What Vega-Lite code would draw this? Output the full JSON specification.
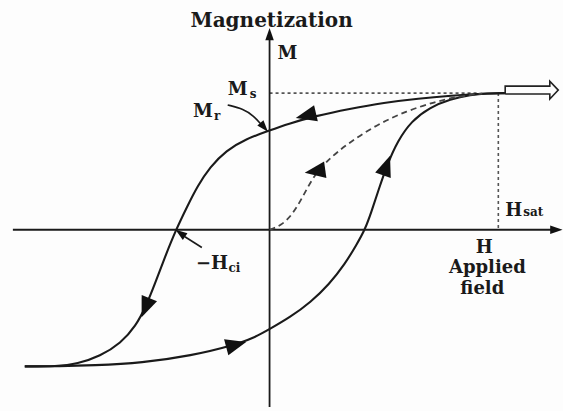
{
  "$schema": "https://vega.github.io/schema/vega-lite/v6.json",
  "width": 563,
  "height": 411,
  "autosize": {"type": "fit", "contains": "padding"},
  "padding": 0,
  "background": "#fdfdfd",
  "config": {"view": {"stroke": null}},
  "datasets": {
    "paths": [
      {"s": "haxis", "i": 0, "H": -1.122, "M": 0},
      {"s": "haxis", "i": 1, "H": 1.235, "M": 0},
      {"s": "vaxis", "i": 0, "H": 0, "M": -1.297},
      {"s": "vaxis", "i": 1, "H": 0, "M": 1.40},

      {"s": "down", "i": 0, "H": 1.030, "M": 1.0},
      {"s": "down", "i": 1, "H": 0.909, "M": 0.995},
      {"s": "down", "i": 2, "H": 0.800, "M": 0.982},
      {"s": "down", "i": 3, "H": 0.650, "M": 0.960},
      {"s": "down", "i": 4, "H": 0.500, "M": 0.930},
      {"s": "down", "i": 5, "H": 0.350, "M": 0.885},
      {"s": "down", "i": 6, "H": 0.200, "M": 0.832},
      {"s": "down", "i": 7, "H": 0.080, "M": 0.775},
      {"s": "down", "i": 8, "H": 0.0, "M": 0.727},
      {"s": "down", "i": 9, "H": -0.104, "M": 0.664},
      {"s": "down", "i": 10, "H": -0.190, "M": 0.580},
      {"s": "down", "i": 11, "H": -0.260, "M": 0.460},
      {"s": "down", "i": 12, "H": -0.315, "M": 0.320},
      {"s": "down", "i": 13, "H": -0.360, "M": 0.170},
      {"s": "down", "i": 14, "H": -0.409, "M": 0.0},
      {"s": "down", "i": 15, "H": -0.455, "M": -0.190},
      {"s": "down", "i": 16, "H": -0.500, "M": -0.390},
      {"s": "down", "i": 17, "H": -0.540, "M": -0.560},
      {"s": "down", "i": 18, "H": -0.585, "M": -0.705},
      {"s": "down", "i": 19, "H": -0.650, "M": -0.830},
      {"s": "down", "i": 20, "H": -0.740, "M": -0.925},
      {"s": "down", "i": 21, "H": -0.840, "M": -0.982},
      {"s": "down", "i": 22, "H": -0.930, "M": -1.0},
      {"s": "down", "i": 23, "H": -1.070, "M": -1.0},

      {"s": "up", "i": 0, "H": -1.070, "M": -1.0},
      {"s": "up", "i": 1, "H": -0.917, "M": -0.999},
      {"s": "up", "i": 2, "H": -0.774, "M": -0.993},
      {"s": "up", "i": 3, "H": -0.557, "M": -0.975},
      {"s": "up", "i": 4, "H": -0.339, "M": -0.920},
      {"s": "up", "i": 5, "H": -0.165, "M": -0.850},
      {"s": "up", "i": 6, "H": -0.060, "M": -0.785},
      {"s": "up", "i": 7, "H": 0.0, "M": -0.727},
      {"s": "up", "i": 8, "H": 0.090, "M": -0.640},
      {"s": "up", "i": 9, "H": 0.180, "M": -0.530},
      {"s": "up", "i": 10, "H": 0.260, "M": -0.400},
      {"s": "up", "i": 11, "H": 0.330, "M": -0.250},
      {"s": "up", "i": 12, "H": 0.380, "M": -0.110},
      {"s": "up", "i": 13, "H": 0.417, "M": 0.0},
      {"s": "up", "i": 14, "H": 0.445, "M": 0.130},
      {"s": "up", "i": 15, "H": 0.478, "M": 0.300},
      {"s": "up", "i": 16, "H": 0.515, "M": 0.480},
      {"s": "up", "i": 17, "H": 0.560, "M": 0.650},
      {"s": "up", "i": 18, "H": 0.620, "M": 0.795},
      {"s": "up", "i": 19, "H": 0.700, "M": 0.895},
      {"s": "up", "i": 20, "H": 0.790, "M": 0.955},
      {"s": "up", "i": 21, "H": 0.880, "M": 0.988},
      {"s": "up", "i": 22, "H": 0.950, "M": 0.999},
      {"s": "up", "i": 23, "H": 1.030, "M": 1.0},

      {"s": "mr_ptr", "i": 0, "H": -0.183, "M": 0.913},
      {"s": "mr_ptr", "i": 1, "H": -0.113, "M": 0.884},
      {"s": "mr_ptr", "i": 2, "H": -0.070, "M": 0.833},
      {"s": "mr_ptr", "i": 3, "H": -0.039, "M": 0.775},
      {"s": "hci_ptr", "i": 0, "H": -0.296, "M": -0.130},
      {"s": "hci_ptr", "i": 1, "H": -0.370, "M": -0.051}
    ],
    "initial": [
      {"i": 0, "H": 0.0, "M": 0.0},
      {"i": 1, "H": 0.050, "M": 0.030},
      {"i": 2, "H": 0.100, "M": 0.110},
      {"i": 3, "H": 0.145, "M": 0.240},
      {"i": 4, "H": 0.185, "M": 0.370},
      {"i": 5, "H": 0.240, "M": 0.490},
      {"i": 6, "H": 0.340, "M": 0.630},
      {"i": 7, "H": 0.470, "M": 0.770},
      {"i": 8, "H": 0.600, "M": 0.870},
      {"i": 9, "H": 0.722, "M": 0.935},
      {"i": 10, "H": 0.822, "M": 0.975},
      {"i": 11, "H": 0.930, "M": 0.997}
    ],
    "guides": [
      {"s": "ms", "i": 0, "H": 0.0, "M": 1.0},
      {"s": "ms", "i": 1, "H": 0.909, "M": 1.0},
      {"s": "hsat", "i": 0, "H": 1.0, "M": 1.0},
      {"s": "hsat", "i": 1, "H": 1.0, "M": 0.0}
    ],
    "block": [
      {"i": 0, "H": 1.030, "M": 0.993},
      {"i": 1, "H": 1.030, "M": 1.051},
      {"i": 2, "H": 1.225, "M": 1.051},
      {"i": 3, "H": 1.225, "M": 1.087},
      {"i": 4, "H": 1.262, "M": 1.022},
      {"i": 5, "H": 1.225, "M": 0.957},
      {"i": 6, "H": 1.225, "M": 0.993},
      {"i": 7, "H": 1.030, "M": 0.993}
    ],
    "heads": [
      {"kind": "curve", "H": 0.165, "M": 0.838, "heading": 257},
      {"kind": "curve", "H": 0.509, "M": 0.460, "heading": 20},
      {"kind": "curve", "H": 0.205, "M": 0.430, "heading": 262},
      {"kind": "curve", "H": -0.540, "M": -0.560, "heading": 202},
      {"kind": "curve", "H": -0.152, "M": -0.843, "heading": 75},
      {"kind": "axis", "H": 1.250, "M": 0.0, "heading": 90},
      {"kind": "axis", "H": 0.0, "M": 1.425, "heading": 0},
      {"kind": "pointer", "H": -0.026, "M": 0.754, "heading": 140},
      {"kind": "pointer", "H": -0.387, "M": -0.029, "heading": 305}
    ],
    "labels": [
      {"kind": "title", "text": "Magnetization", "H": 0.009, "M": 1.486},
      {"kind": "left", "text": "M", "H": 0.035, "M": 1.246},
      {"kind": "left", "text": "M", "H": -0.183, "M": 0.986},
      {"kind": "left", "text": "M", "H": -0.335, "M": 0.826},
      {"kind": "left", "text": "H", "H": 1.030, "M": 0.101},
      {"kind": "left", "text": "−H", "H": -0.322, "M": -0.290},
      {"kind": "center", "text": "H", "H": 0.939, "M": -0.167},
      {"kind": "center", "text": "Applied", "H": 0.952, "M": -0.319},
      {"kind": "center", "text": "field", "H": 0.930, "M": -0.471},
      {"kind": "sub", "text": "s", "H": -0.087, "M": 0.964},
      {"kind": "sub", "text": "r", "H": -0.243, "M": 0.804},
      {"kind": "sub", "text": "sat", "H": 1.109, "M": 0.101},
      {"kind": "sub", "text": "ci", "H": -0.180, "M": -0.312}
    ]
  },
  "encoding": {
    "x": {"field": "H", "type": "quantitative", "axis": null,
          "scale": {"domain": [-1.1783, 1.2696], "nice": false, "zero": false}},
    "y": {"field": "M", "type": "quantitative", "axis": null,
          "scale": {"domain": [-1.2971, 1.6812], "nice": false, "zero": false}}
  },
  "layer": [
    {
      "data": {"name": "guides"},
      "mark": {"type": "line", "stroke": "#555", "strokeWidth": 1.6, "strokeDash": [3, 3]},
      "encoding": {"detail": {"field": "s"}, "order": {"field": "i"}}
    },
    {
      "data": {"name": "paths"},
      "transform": [{"filter": "datum.s === 'haxis' || datum.s === 'vaxis'"}],
      "mark": {"type": "line", "stroke": "#1a1a1a", "strokeWidth": 1.8},
      "encoding": {"detail": {"field": "s"}, "order": {"field": "i"}}
    },
    {
      "data": {"name": "paths"},
      "transform": [{"filter": "datum.s === 'down' || datum.s === 'up'"}],
      "mark": {"type": "line", "stroke": "#1a1a1a", "strokeWidth": 2.1, "interpolate": "basis"},
      "encoding": {"detail": {"field": "s"}, "order": {"field": "i"}}
    },
    {
      "data": {"name": "paths"},
      "transform": [{"filter": "datum.s === 'mr_ptr' || datum.s === 'hci_ptr'"}],
      "mark": {"type": "line", "stroke": "#1a1a1a", "strokeWidth": 1.6, "interpolate": "basis"},
      "encoding": {"detail": {"field": "s"}, "order": {"field": "i"}}
    },
    {
      "data": {"name": "initial"},
      "mark": {"type": "line", "stroke": "#444", "strokeWidth": 1.8, "strokeDash": [6, 4], "interpolate": "basis"},
      "encoding": {"order": {"field": "i"}}
    },
    {
      "data": {"name": "block"},
      "mark": {"type": "line", "stroke": "#222", "strokeWidth": 1.6, "strokeJoin": "miter"},
      "encoding": {"order": {"field": "i"}}
    },
    {
      "data": {"name": "heads"},
      "transform": [{"filter": "datum.kind === 'curve'"}],
      "mark": {"type": "point", "shape": "M0,-1L0.7,0.75L-0.7,0.75Z", "filled": true, "color": "#111", "opacity": 1, "size": 560},
      "encoding": {"angle": {"field": "heading", "type": "quantitative", "scale": null}}
    },
    {
      "data": {"name": "heads"},
      "transform": [{"filter": "datum.kind === 'axis'"}],
      "mark": {"type": "point", "shape": "M0,-1L0.6,0.75L-0.6,0.75Z", "filled": true, "color": "#111", "opacity": 1, "size": 200},
      "encoding": {"angle": {"field": "heading", "type": "quantitative", "scale": null}}
    },
    {
      "data": {"name": "heads"},
      "transform": [{"filter": "datum.kind === 'pointer'"}],
      "mark": {"type": "point", "shape": "M0,-1L0.6,0.75L-0.6,0.75Z", "filled": true, "color": "#111", "opacity": 1, "size": 180},
      "encoding": {"angle": {"field": "heading", "type": "quantitative", "scale": null}}
    },
    {
      "data": {"name": "labels"},
      "transform": [{"filter": "datum.kind === 'title'"}],
      "mark": {"type": "text", "font": "DejaVu Serif", "fontWeight": "bold", "fontSize": 20, "align": "center", "baseline": "alphabetic", "color": "#1a1a1a"},
      "encoding": {"text": {"field": "text"}}
    },
    {
      "data": {"name": "labels"},
      "transform": [{"filter": "datum.kind === 'left'"}],
      "mark": {"type": "text", "font": "DejaVu Serif", "fontWeight": "bold", "fontSize": 18, "align": "left", "baseline": "alphabetic", "color": "#1a1a1a"},
      "encoding": {"text": {"field": "text"}}
    },
    {
      "data": {"name": "labels"},
      "transform": [{"filter": "datum.kind === 'center'"}],
      "mark": {"type": "text", "font": "DejaVu Serif", "fontWeight": "bold", "fontSize": 18, "align": "center", "baseline": "alphabetic", "color": "#1a1a1a"},
      "encoding": {"text": {"field": "text"}}
    },
    {
      "data": {"name": "labels"},
      "transform": [{"filter": "datum.kind === 'sub'"}],
      "mark": {"type": "text", "font": "DejaVu Serif", "fontWeight": "bold", "fontSize": 12, "align": "left", "baseline": "alphabetic", "color": "#1a1a1a"},
      "encoding": {"text": {"field": "text"}}
    }
  ]
}
